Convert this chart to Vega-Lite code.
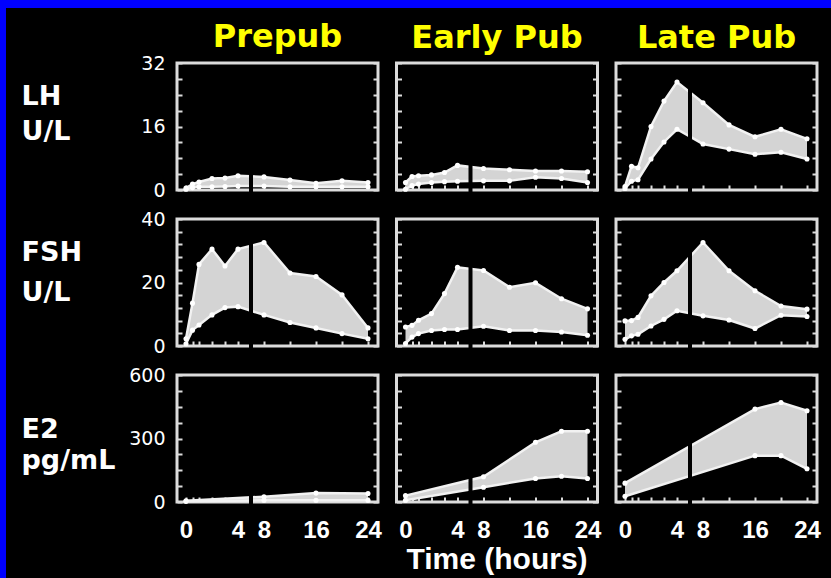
{
"$schema":"https://vega.github.io/schema/vega-lite/v6.json",
"background":"#000000",
"padding":0,
"autosize":{"type":"pad"},
"spacing":0,
"datasets":{
"lh_pre":[{"t":0,"lo":0.2,"hi":0.5},{"t":0.5,"lo":0.6,"hi":1.5},{"t":1,"lo":0.8,"hi":2.0},{"t":2,"lo":0.8,"hi":2.9},{"t":3,"lo":0.9,"hi":3.0},{"t":4,"lo":1.0,"hi":3.6},{"t":8,"lo":1.0,"hi":3.3},{"t":12,"lo":0.8,"hi":2.5},{"t":16,"lo":0.8,"hi":1.7},{"t":20,"lo":0.8,"hi":2.3},{"t":24,"lo":0.8,"hi":1.9}],
"lh_early":[{"t":0,"lo":0.2,"hi":1.9},{"t":0.5,"lo":1.1,"hi":3.4},{"t":1,"lo":1.5,"hi":3.6},{"t":2,"lo":1.9,"hi":3.8},{"t":3,"lo":2.1,"hi":4.4},{"t":4,"lo":2.2,"hi":6.2},{"t":8,"lo":2.3,"hi":5.4},{"t":12,"lo":2.3,"hi":5.1},{"t":16,"lo":3.2,"hi":4.8},{"t":20,"lo":2.9,"hi":4.8},{"t":24,"lo":1.9,"hi":4.6}],
"lh_late":[{"t":0,"lo":0.4,"hi":0.9},{"t":0.5,"lo":2.2,"hi":6.0},{"t":1,"lo":2.6,"hi":5.6},{"t":2,"lo":7.8,"hi":16.0},{"t":3,"lo":12.1,"hi":22.4},{"t":4,"lo":15.3,"hi":27.2},{"t":8,"lo":11.6,"hi":22.0},{"t":12,"lo":10.3,"hi":16.4},{"t":16,"lo":9.0,"hi":13.4},{"t":20,"lo":9.5,"hi":15.3},{"t":24,"lo":7.8,"hi":12.9}],
"fsh_pre":[{"t":0,"lo":0.7,"hi":2.3},{"t":0.5,"lo":5.0,"hi":13.5},{"t":1,"lo":6.6,"hi":25.7},{"t":2,"lo":9.8,"hi":30.5},{"t":3,"lo":12.1,"hi":25.2},{"t":4,"lo":12.4,"hi":30.5},{"t":8,"lo":9.8,"hi":32.6},{"t":12,"lo":7.4,"hi":23.0},{"t":16,"lo":5.7,"hi":21.9},{"t":20,"lo":3.9,"hi":16.1},{"t":24,"lo":2.3,"hi":5.7}],
"fsh_early":[{"t":0,"lo":0.8,"hi":6.0},{"t":0.5,"lo":2.8,"hi":6.5},{"t":1,"lo":3.9,"hi":8.1},{"t":2,"lo":4.9,"hi":10.2},{"t":3,"lo":5.2,"hi":16.5},{"t":4,"lo":5.2,"hi":24.8},{"t":8,"lo":6.2,"hi":23.8},{"t":12,"lo":4.9,"hi":18.5},{"t":16,"lo":4.9,"hi":19.9},{"t":20,"lo":4.4,"hi":14.9},{"t":24,"lo":3.4,"hi":11.7}],
"fsh_late":[{"t":0,"lo":2.1,"hi":7.9},{"t":0.5,"lo":3.2,"hi":8.0},{"t":1,"lo":3.7,"hi":9.0},{"t":2,"lo":6.3,"hi":15.8},{"t":3,"lo":8.4,"hi":20.0},{"t":4,"lo":11.1,"hi":23.7},{"t":8,"lo":9.5,"hi":32.6},{"t":12,"lo":8.2,"hi":23.7},{"t":16,"lo":5.5,"hi":17.4},{"t":20,"lo":9.7,"hi":12.6},{"t":24,"lo":9.3,"hi":11.6}],
"e2_pre":[{"t":0,"lo":3,"hi":6},{"t":8,"lo":8,"hi":25},{"t":16,"lo":8,"hi":42},{"t":24,"lo":8,"hi":40}],
"e2_early":[{"t":0,"lo":8,"hi":30},{"t":8,"lo":70,"hi":119},{"t":16,"lo":111,"hi":282},{"t":20,"lo":122,"hi":334},{"t":24,"lo":111,"hi":334}],
"e2_late":[{"t":0,"lo":27,"hi":89},{"t":16,"lo":219,"hi":439},{"t":20,"lo":219,"hi":470},{"t":24,"lo":157,"hi":431}]
},
"vconcat":[
{"width":831,"height":8,"view":{"fill":"#0000ff","stroke":null},"data":{"values":[{"a":0}]},"mark":{"type":"point","opacity":0,"size":1},"encoding":{}},
{"hconcat":[
{"width":6,"height":570,"view":{"fill":"#0000ff","stroke":null},"data":{"values":[{"a":0}]},"mark":{"type":"point","opacity":0,"size":1},"encoding":{}},
{"vconcat":[
{"width":1,"height":1,"view":{"fill":null,"stroke":null},"data":{"values":[{"a":0}]},"mark":{"type":"point","opacity":0,"size":1},"encoding":{}},
{"columns":3,"bounds":"flush","spacing":{"row":29,"column":18.5},
"concat":[
{"width":201,"height":127,
"title":{"text":"Prepub","color":"#ffff00","font":"DejaVu Sans","fontSize":32,"fontWeight":"bold","anchor":"middle","frame":"group","baseline":"top","offset":0},
"data":{"name":"lh_pre"},
"encoding":{"x":{"field":"t","type":"quantitative","scale":{"domain":[0,4,24],"range":[9,61,191],"nice":false,"zero":false},"axis":{"values":[0,0.5,1,2,3,4,8,12,16,20,24],"labels":false,"title":null}}},
"layer":[
{"mark":{"type":"area","color":"#d4d4d4","opacity":1},"encoding":{"y":{"field":"hi","type":"quantitative","scale":{"domain":[0,32],"nice":false,"zero":false},"axis":{"values":[0,4,8,12,16,20,24,28,32],"labelExpr":"datum.value % 16 === 0 ? datum.label : ''","labelFont":"DejaVu Sans","labelFontSize":19,"labelPadding":17,"title":["LH","U/L"],"titleFont":"DejaVu Sans","titleFontSize":27,"titleFontWeight":"bold","titleAngle":0,"titleAlign":"left","titleBaseline":"top","titleX":-156,"titleY":20,"titleLineHeight":35}},"y2":{"field":"lo"}}},
{"mark":{"type":"line","color":"#f2f2f2","strokeWidth":2.5},"encoding":{"y":{"field":"hi","type":"quantitative","axis":{"orient":"right","values":[0,4,8,12,16,20,24,28,32],"labels":false,"title":null}}}},
{"mark":{"type":"line","color":"#f2f2f2","strokeWidth":2.5},"encoding":{"y":{"field":"lo","type":"quantitative","axis":null}}},
{"mark":{"type":"point","filled":true,"color":"#ffffff","size":26,"opacity":1},"encoding":{"y":{"field":"hi","type":"quantitative","axis":null}}},
{"mark":{"type":"point","filled":true,"color":"#ffffff","size":26,"opacity":1},"encoding":{"y":{"field":"lo","type":"quantitative","axis":null}}},
{"data":{"values":[{"t":6,"top":10,"bot":-0.8}]},"mark":{"type":"rule","color":"#000000","strokeWidth":4},"encoding":{"y":{"field":"top","type":"quantitative","axis":null},"y2":{"field":"bot"}}}
],
"resolve":{"axis":{"y":"independent"}}},
{"width":201,"height":127,
"title":{"text":"Early Pub","color":"#ffff00","font":"DejaVu Sans","fontSize":32,"fontWeight":"bold","anchor":"middle","frame":"group","baseline":"top","offset":7},
"data":{"name":"lh_early"},
"encoding":{"x":{"field":"t","type":"quantitative","scale":{"domain":[0,4,24],"range":[9,61,191],"nice":false,"zero":false},"axis":{"values":[0,0.5,1,2,3,4,8,12,16,20,24],"labels":false,"title":null}}},
"layer":[
{"mark":{"type":"area","color":"#d4d4d4","opacity":1},"encoding":{"y":{"field":"hi","type":"quantitative","scale":{"domain":[0,32],"nice":false,"zero":false},"axis":{"values":[0,4,8,12,16,20,24,28,32],"labels":false,"title":null}},"y2":{"field":"lo"}}},
{"mark":{"type":"line","color":"#f2f2f2","strokeWidth":2.5},"encoding":{"y":{"field":"hi","type":"quantitative","axis":{"orient":"right","values":[0,4,8,12,16,20,24,28,32],"labels":false,"title":null}}}},
{"mark":{"type":"line","color":"#f2f2f2","strokeWidth":2.5},"encoding":{"y":{"field":"lo","type":"quantitative","axis":null}}},
{"mark":{"type":"point","filled":true,"color":"#ffffff","size":26,"opacity":1},"encoding":{"y":{"field":"hi","type":"quantitative","axis":null}}},
{"mark":{"type":"point","filled":true,"color":"#ffffff","size":26,"opacity":1},"encoding":{"y":{"field":"lo","type":"quantitative","axis":null}}},
{"data":{"values":[{"t":6,"top":10,"bot":-0.8}]},"mark":{"type":"rule","color":"#000000","strokeWidth":4},"encoding":{"y":{"field":"top","type":"quantitative","axis":null},"y2":{"field":"bot"}}}
],
"resolve":{"axis":{"y":"independent"}}},
{"width":201,"height":127,
"title":{"text":"Late Pub","color":"#ffff00","font":"DejaVu Sans","fontSize":32,"fontWeight":"bold","anchor":"middle","frame":"group","baseline":"top","offset":7},
"data":{"name":"lh_late"},
"encoding":{"x":{"field":"t","type":"quantitative","scale":{"domain":[0,4,24],"range":[9,61,191],"nice":false,"zero":false},"axis":{"values":[0,0.5,1,2,3,4,8,12,16,20,24],"labels":false,"title":null}}},
"layer":[
{"mark":{"type":"area","color":"#d4d4d4","opacity":1},"encoding":{"y":{"field":"hi","type":"quantitative","scale":{"domain":[0,32],"nice":false,"zero":false},"axis":{"values":[0,4,8,12,16,20,24,28,32],"labels":false,"title":null}},"y2":{"field":"lo"}}},
{"mark":{"type":"line","color":"#f2f2f2","strokeWidth":2.5},"encoding":{"y":{"field":"hi","type":"quantitative","axis":{"orient":"right","values":[0,4,8,12,16,20,24,28,32],"labels":false,"title":null}}}},
{"mark":{"type":"line","color":"#f2f2f2","strokeWidth":2.5},"encoding":{"y":{"field":"lo","type":"quantitative","axis":null}}},
{"mark":{"type":"point","filled":true,"color":"#ffffff","size":26,"opacity":1},"encoding":{"y":{"field":"hi","type":"quantitative","axis":null}}},
{"mark":{"type":"point","filled":true,"color":"#ffffff","size":26,"opacity":1},"encoding":{"y":{"field":"lo","type":"quantitative","axis":null}}},
{"data":{"values":[{"t":6,"top":31,"bot":-0.8}]},"mark":{"type":"rule","color":"#000000","strokeWidth":4},"encoding":{"y":{"field":"top","type":"quantitative","axis":null},"y2":{"field":"bot"}}}
],
"resolve":{"axis":{"y":"independent"}}},
{"width":201,"height":127,
"data":{"name":"fsh_pre"},
"encoding":{"x":{"field":"t","type":"quantitative","scale":{"domain":[0,4,24],"range":[9,61,191],"nice":false,"zero":false},"axis":{"values":[0,0.5,1,2,3,4,8,12,16,20,24],"labels":false,"title":null}}},
"layer":[
{"mark":{"type":"area","color":"#d4d4d4","opacity":1},"encoding":{"y":{"field":"hi","type":"quantitative","scale":{"domain":[0,40],"nice":false,"zero":false},"axis":{"values":[0,4,8,12,16,20,24,28,32,36,40],"labelExpr":"datum.value % 20 === 0 ? datum.label : ''","labelFont":"DejaVu Sans","labelFontSize":19,"labelPadding":17,"title":["FSH","U/L"],"titleFont":"DejaVu Sans","titleFontSize":27,"titleFontWeight":"bold","titleAngle":0,"titleAlign":"left","titleBaseline":"top","titleX":-156,"titleY":20,"titleLineHeight":40}},"y2":{"field":"lo"}}},
{"mark":{"type":"line","color":"#f2f2f2","strokeWidth":2.5},"encoding":{"y":{"field":"hi","type":"quantitative","axis":{"orient":"right","values":[0,4,8,12,16,20,24,28,32,36,40],"labels":false,"title":null}}}},
{"mark":{"type":"line","color":"#f2f2f2","strokeWidth":2.5},"encoding":{"y":{"field":"lo","type":"quantitative","axis":null}}},
{"mark":{"type":"point","filled":true,"color":"#ffffff","size":26,"opacity":1},"encoding":{"y":{"field":"hi","type":"quantitative","axis":null}}},
{"mark":{"type":"point","filled":true,"color":"#ffffff","size":26,"opacity":1},"encoding":{"y":{"field":"lo","type":"quantitative","axis":null}}},
{"data":{"values":[{"t":6,"top":35,"bot":-1}]},"mark":{"type":"rule","color":"#000000","strokeWidth":4},"encoding":{"y":{"field":"top","type":"quantitative","axis":null},"y2":{"field":"bot"}}}
],
"resolve":{"axis":{"y":"independent"}}},
{"width":201,"height":127,
"data":{"name":"fsh_early"},
"encoding":{"x":{"field":"t","type":"quantitative","scale":{"domain":[0,4,24],"range":[9,61,191],"nice":false,"zero":false},"axis":{"values":[0,0.5,1,2,3,4,8,12,16,20,24],"labels":false,"title":null}}},
"layer":[
{"mark":{"type":"area","color":"#d4d4d4","opacity":1},"encoding":{"y":{"field":"hi","type":"quantitative","scale":{"domain":[0,40],"nice":false,"zero":false},"axis":{"values":[0,4,8,12,16,20,24,28,32,36,40],"labels":false,"title":null}},"y2":{"field":"lo"}}},
{"mark":{"type":"line","color":"#f2f2f2","strokeWidth":2.5},"encoding":{"y":{"field":"hi","type":"quantitative","axis":{"orient":"right","values":[0,4,8,12,16,20,24,28,32,36,40],"labels":false,"title":null}}}},
{"mark":{"type":"line","color":"#f2f2f2","strokeWidth":2.5},"encoding":{"y":{"field":"lo","type":"quantitative","axis":null}}},
{"mark":{"type":"point","filled":true,"color":"#ffffff","size":26,"opacity":1},"encoding":{"y":{"field":"hi","type":"quantitative","axis":null}}},
{"mark":{"type":"point","filled":true,"color":"#ffffff","size":26,"opacity":1},"encoding":{"y":{"field":"lo","type":"quantitative","axis":null}}},
{"data":{"values":[{"t":6,"top":35.5,"bot":-1}]},"mark":{"type":"rule","color":"#000000","strokeWidth":4},"encoding":{"y":{"field":"top","type":"quantitative","axis":null},"y2":{"field":"bot"}}}
],
"resolve":{"axis":{"y":"independent"}}},
{"width":201,"height":127,
"data":{"name":"fsh_late"},
"encoding":{"x":{"field":"t","type":"quantitative","scale":{"domain":[0,4,24],"range":[9,61,191],"nice":false,"zero":false},"axis":{"values":[0,0.5,1,2,3,4,8,12,16,20,24],"labels":false,"title":null}}},
"layer":[
{"mark":{"type":"area","color":"#d4d4d4","opacity":1},"encoding":{"y":{"field":"hi","type":"quantitative","scale":{"domain":[0,40],"nice":false,"zero":false},"axis":{"values":[0,4,8,12,16,20,24,28,32,36,40],"labels":false,"title":null}},"y2":{"field":"lo"}}},
{"mark":{"type":"line","color":"#f2f2f2","strokeWidth":2.5},"encoding":{"y":{"field":"hi","type":"quantitative","axis":{"orient":"right","values":[0,4,8,12,16,20,24,28,32,36,40],"labels":false,"title":null}}}},
{"mark":{"type":"line","color":"#f2f2f2","strokeWidth":2.5},"encoding":{"y":{"field":"lo","type":"quantitative","axis":null}}},
{"mark":{"type":"point","filled":true,"color":"#ffffff","size":26,"opacity":1},"encoding":{"y":{"field":"hi","type":"quantitative","axis":null}}},
{"mark":{"type":"point","filled":true,"color":"#ffffff","size":26,"opacity":1},"encoding":{"y":{"field":"lo","type":"quantitative","axis":null}}},
{"data":{"values":[{"t":6,"top":35.5,"bot":-1}]},"mark":{"type":"rule","color":"#000000","strokeWidth":4},"encoding":{"y":{"field":"top","type":"quantitative","axis":null},"y2":{"field":"bot"}}}
],
"resolve":{"axis":{"y":"independent"}}},
{"width":201,"height":127,
"data":{"name":"e2_pre"},
"encoding":{"x":{"field":"t","type":"quantitative","scale":{"domain":[0,4,24],"range":[9,61,191],"nice":false,"zero":false},"axis":{"values":[0,0.5,1,2,3,4,8,12,16,20,24],"labelExpr":"indexof([0,4,8,16,24], datum.value) >= 0 ? datum.label : ''","labelFont":"Liberation Sans","labelFontSize":24,"labelFontWeight":"bold","labelPadding":21,"title":null}}},
"layer":[
{"mark":{"type":"area","color":"#d4d4d4","opacity":1},"encoding":{"y":{"field":"hi","type":"quantitative","scale":{"domain":[0,600],"nice":false,"zero":false},"axis":{"values":[0,75,150,225,300,375,450,525,600],"labelExpr":"datum.value % 300 === 0 ? datum.label : ''","labelFont":"DejaVu Sans","labelFontSize":19,"labelPadding":17,"title":["E2","pg/mL"],"titleFont":"DejaVu Sans","titleFontSize":27,"titleFontWeight":"bold","titleAngle":0,"titleAlign":"left","titleBaseline":"top","titleX":-156,"titleY":41,"titleLineHeight":31}},"y2":{"field":"lo"}}},
{"mark":{"type":"line","color":"#f2f2f2","strokeWidth":2.5},"encoding":{"y":{"field":"hi","type":"quantitative","axis":{"orient":"right","values":[0,75,150,225,300,375,450,525,600],"labels":false,"title":null}}}},
{"mark":{"type":"line","color":"#f2f2f2","strokeWidth":2.5},"encoding":{"y":{"field":"lo","type":"quantitative","axis":null}}},
{"mark":{"type":"point","filled":true,"color":"#ffffff","size":26,"opacity":1},"encoding":{"y":{"field":"hi","type":"quantitative","axis":null}}},
{"mark":{"type":"point","filled":true,"color":"#ffffff","size":26,"opacity":1},"encoding":{"y":{"field":"lo","type":"quantitative","axis":null}}},
{"data":{"values":[{"t":6,"top":188,"bot":-15}]},"mark":{"type":"rule","color":"#000000","strokeWidth":4},"encoding":{"y":{"field":"top","type":"quantitative","axis":null},"y2":{"field":"bot"}}}
],
"resolve":{"axis":{"y":"independent"}}},
{"width":201,"height":127,
"data":{"name":"e2_early"},
"encoding":{"x":{"field":"t","type":"quantitative","scale":{"domain":[0,4,24],"range":[9,61,191],"nice":false,"zero":false},"axis":{"values":[0,0.5,1,2,3,4,8,12,16,20,24],"labelExpr":"indexof([0,4,8,16,24], datum.value) >= 0 ? datum.label : ''","labelFont":"Liberation Sans","labelFontSize":24,"labelFontWeight":"bold","labelPadding":21,"title":"Time (hours)","titleFont":"Liberation Sans","titleFontSize":30,"titleFontWeight":"bold","titlePadding":2}}},
"layer":[
{"mark":{"type":"area","color":"#d4d4d4","opacity":1},"encoding":{"y":{"field":"hi","type":"quantitative","scale":{"domain":[0,600],"nice":false,"zero":false},"axis":{"values":[0,75,150,225,300,375,450,525,600],"labels":false,"title":null}},"y2":{"field":"lo"}}},
{"mark":{"type":"line","color":"#f2f2f2","strokeWidth":2.5},"encoding":{"y":{"field":"hi","type":"quantitative","axis":{"orient":"right","values":[0,75,150,225,300,375,450,525,600],"labels":false,"title":null}}}},
{"mark":{"type":"line","color":"#f2f2f2","strokeWidth":2.5},"encoding":{"y":{"field":"lo","type":"quantitative","axis":null}}},
{"mark":{"type":"point","filled":true,"color":"#ffffff","size":26,"opacity":1},"encoding":{"y":{"field":"hi","type":"quantitative","axis":null}}},
{"mark":{"type":"point","filled":true,"color":"#ffffff","size":26,"opacity":1},"encoding":{"y":{"field":"lo","type":"quantitative","axis":null}}},
{"data":{"values":[{"t":6,"top":188,"bot":-15}]},"mark":{"type":"rule","color":"#000000","strokeWidth":4},"encoding":{"y":{"field":"top","type":"quantitative","axis":null},"y2":{"field":"bot"}}}
],
"resolve":{"axis":{"y":"independent"}}},
{"width":201,"height":127,
"data":{"name":"e2_late"},
"encoding":{"x":{"field":"t","type":"quantitative","scale":{"domain":[0,4,24],"range":[9,61,191],"nice":false,"zero":false},"axis":{"values":[0,0.5,1,2,3,4,8,12,16,20,24],"labelExpr":"indexof([0,4,8,16,24], datum.value) >= 0 ? datum.label : ''","labelFont":"Liberation Sans","labelFontSize":24,"labelFontWeight":"bold","labelPadding":21,"title":null}}},
"layer":[
{"mark":{"type":"area","color":"#d4d4d4","opacity":1},"encoding":{"y":{"field":"hi","type":"quantitative","scale":{"domain":[0,600],"nice":false,"zero":false},"axis":{"values":[0,75,150,225,300,375,450,525,600],"labels":false,"title":null}},"y2":{"field":"lo"}}},
{"mark":{"type":"line","color":"#f2f2f2","strokeWidth":2.5},"encoding":{"y":{"field":"hi","type":"quantitative","axis":{"orient":"right","values":[0,75,150,225,300,375,450,525,600],"labels":false,"title":null}}}},
{"mark":{"type":"line","color":"#f2f2f2","strokeWidth":2.5},"encoding":{"y":{"field":"lo","type":"quantitative","axis":null}}},
{"mark":{"type":"point","filled":true,"color":"#ffffff","size":26,"opacity":1},"encoding":{"y":{"field":"hi","type":"quantitative","axis":null}}},
{"mark":{"type":"point","filled":true,"color":"#ffffff","size":26,"opacity":1},"encoding":{"y":{"field":"lo","type":"quantitative","axis":null}}},
{"data":{"values":[{"t":6,"top":286,"bot":-15}]},"mark":{"type":"rule","color":"#000000","strokeWidth":4},"encoding":{"y":{"field":"top","type":"quantitative","axis":null},"y2":{"field":"bot"}}}
],
"resolve":{"axis":{"y":"independent"}}}
]}
],"spacing":10}
],"spacing":13}
],
"config":{
"view":{"stroke":"#dcdcdc","strokeWidth":3,"fill":"#000000"},
"axis":{"domain":false,"grid":false,"tickColor":"#dcdcdc","tickWidth":2,"tickSize":-5,"labelColor":"#ffffff","titleColor":"#ffffff","labelOverlap":false,"labelFlush":false}
}
}
